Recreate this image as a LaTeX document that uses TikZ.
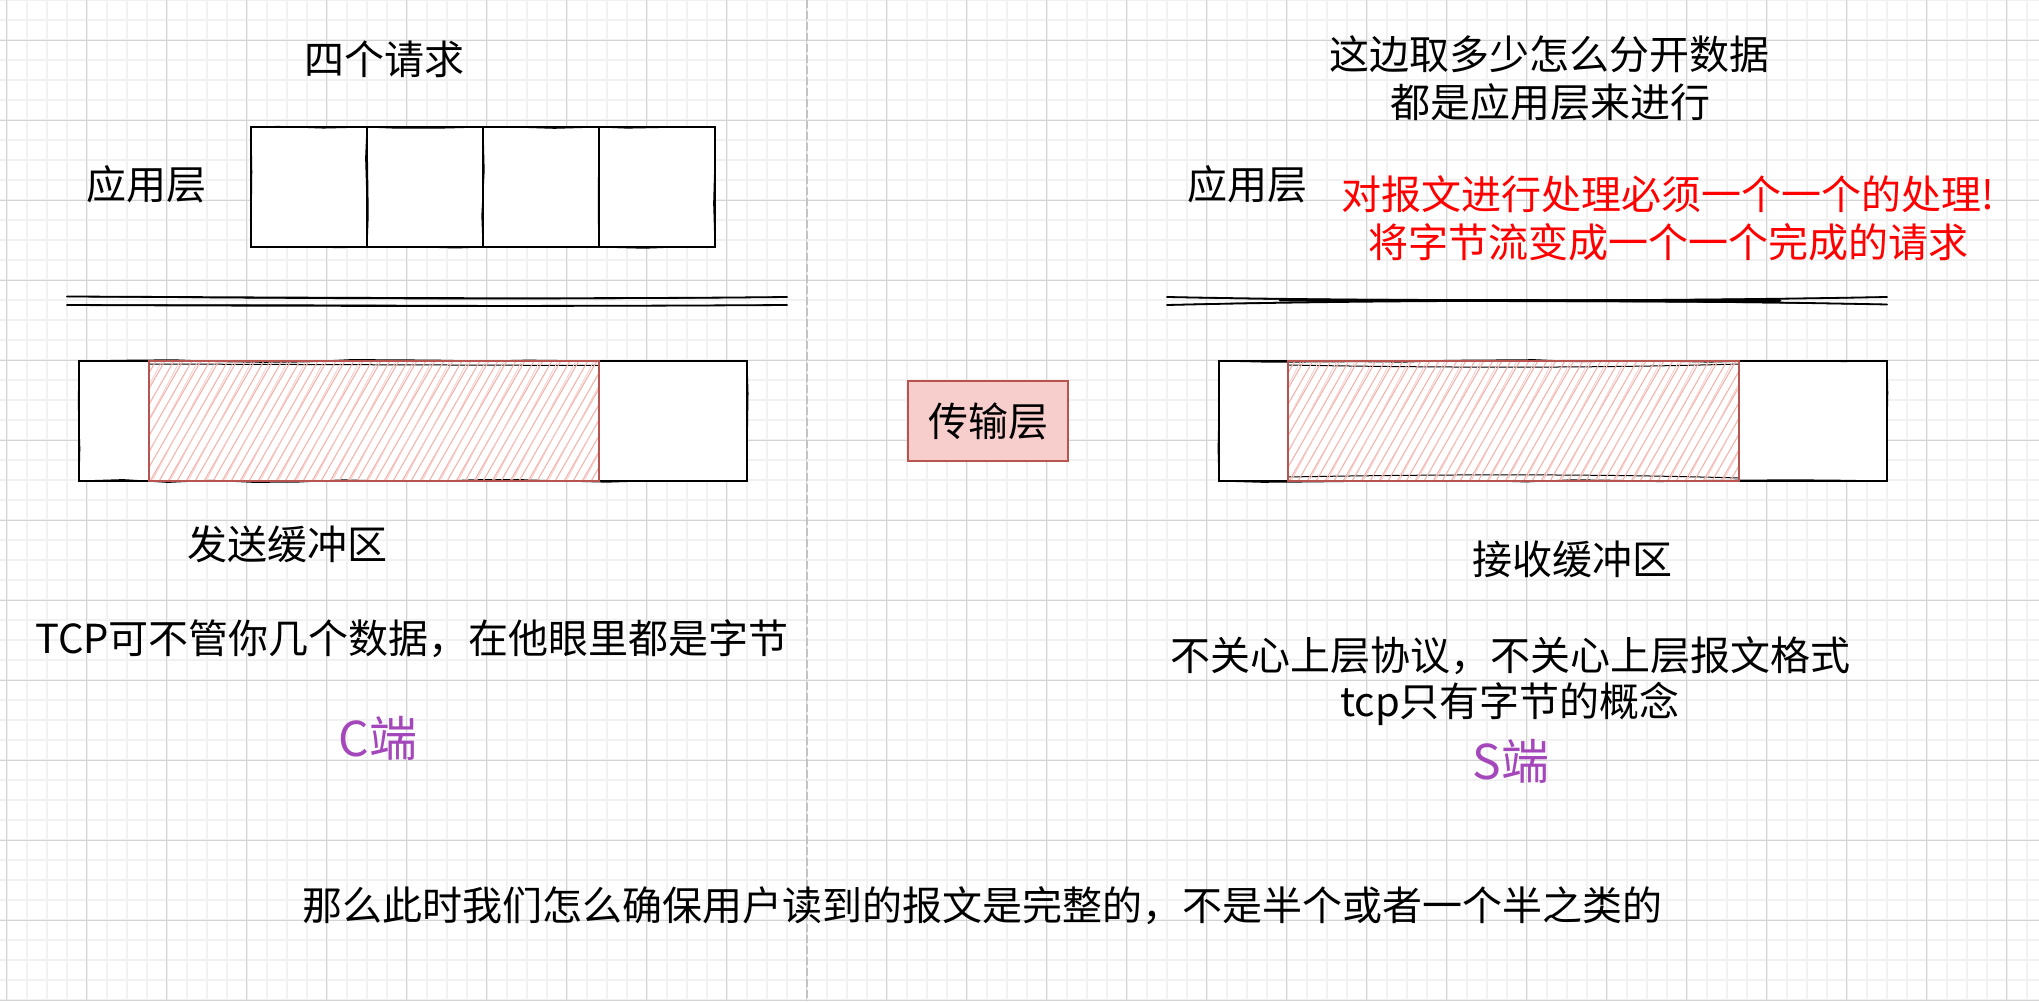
\documentclass[tikz,border=0pt]{standalone}
\usepackage{fontspec}
\newfontfamily\cjk{Noto Sans CJK SC}
\usetikzlibrary{decorations.pathmorphing}
\definecolor{majorgrid}{HTML}{D4D4D4}
\definecolor{minorgrid}{HTML}{F1F1F1}
\definecolor{sepgray}{HTML}{C4C4C4}
\definecolor{pinkstroke}{HTML}{B85450}
\definecolor{pinkfill}{HTML}{F8CECC}
\definecolor{hatchpink}{HTML}{F3B4AF}
\definecolor{purpletxt}{HTML}{A347BA}
\definecolor{redtxt}{HTML}{FF0000}
\tikzset{
  txt/.style={font=\cjk\fontsize{20pt}{24pt}\selectfont, inner sep=0pt, anchor=base, text=black},
  bigtxt/.style={font=\cjk\fontsize{24pt}{28pt}\selectfont, inner sep=0pt, anchor=base, text=purpletxt},
  sk/.style={draw=black, line width=0.9pt, fill=white, inner sep=0pt,
    postaction={draw=black, line width=0.5pt, decorate,
      decoration={random steps, segment length=22pt, amplitude=0.7pt}}},
  pinkbox/.style={draw=pinkstroke, line width=1pt, inner sep=0pt},
  hatch/.style={draw=hatchpink, line width=0.55pt},
  hatchb/.style={draw=hatchpink!70, line width=0.4pt},
  sline/.style={draw=black, line width=0.9pt, line cap=round},
  thinline/.style={draw=black, line width=0.5pt, line cap=round},
}
\newcommand\hatchbox[2]{%
  \begin{scope}
    \clip (#1,361) rectangle (#2,481);
    \foreach \t in {0,9,...,560} \draw[hatch] ({#1-72+\t},483) -- ++(71,-124);
    \foreach \t in {0,18,...,560} \draw[hatchb] ({#1-70+\t},483) -- ++(66,-124);
  \end{scope}}
\begin{document}
\begin{tikzpicture}[x=0.5pt,y=-0.5pt]
\pgfmathsetseed{7}
\useasboundingbox (0,0) rectangle (2039,1001);
\fill[white] (0,0) rectangle (2039,1001);
% grid
\foreach \i in {0,...,101} \draw[minorgrid, line width=0.9pt] ({6.67+20*\i},0) -- ++(0,1001);
\foreach \j in {0,...,50} \draw[minorgrid, line width=0.9pt] (0,{20*\j}) -- ++(2039,0);
\foreach \i in {0,...,25} \draw[majorgrid, line width=0.5pt] ({6.67+80*\i},0) -- ++(0,1001);
\foreach \j in {0,...,12} \draw[majorgrid, line width=0.5pt] (0,{40+80*\j}) -- ++(2039,0);
% separator
\coordinate (sepT) at (806.7,0);
\coordinate (sepB) at (806.7,1001);
\draw[sepgray, line width=1pt, dash pattern=on 4pt off 1.5pt] (sepT) -- (sepB);

% ---------- left (client) ----------
\node[txt] (reqtitle) at (384.5,74) {四个请求};
\node[txt] (appL) at (146,199) {应用层};
\node[sk, minimum width=58pt, minimum height=60pt] (req1) at (309,187) {};
\node[sk, minimum width=58pt, minimum height=60pt] (req2) at (425,187) {};
\node[sk, minimum width=58pt, minimum height=60pt] (req3) at (541,187) {};
\node[sk, minimum width=58pt, minimum height=60pt] (req4) at (657,187) {};

\coordinate (lA1) at (67,296.5); \coordinate (lB1) at (787,297);
\coordinate (lA2) at (67,305);   \coordinate (lB2) at (787,305);
\draw[sline] (lA1) .. controls (300,297.5) and (550,299.5) .. (lB1);
\draw[thinline] (lA1) .. controls (320,299) and (560,300) .. (lB1);
\draw[sline] (lA2) .. controls (300,306) and (550,306.5) .. (lB2);
\draw[thinline] (lA2) .. controls (320,304) and (560,307) .. (lB2);

\node[sk, minimum width=334pt, minimum height=60pt] (sbuf) at (413,421) {};
\draw[thinline] (149,364) -- (599,365.5);
\hatchbox{149}{599}
\node[pinkbox, minimum width=225pt, minimum height=60pt] (sdata) at (374,421) {};
\node[txt] (sendbuf) at (287,559) {发送缓冲区};
\node[txt] (tcpnote) at (412,653) {TCP可不管你几个数据，在他眼里都是字节};
\node[bigtxt] (cside) at (378,756) {C端};

% ---------- middle ----------
\node[draw=pinkstroke, fill=pinkfill, line width=1pt, minimum width=80pt, minimum height=40pt,
      inner sep=0pt, font=\cjk\fontsize{20pt}{24pt}\selectfont] (transport) at (988,421) {传输层};

% ---------- right (server) ----------
\node[txt] (r1) at (1549,69) {这边取多少怎么分开数据};
\node[txt] (r2) at (1550,117) {都是应用层来进行};
\node[txt] (appR) at (1247,199) {应用层};
\node[txt, text=redtxt] (red1) at (1668,209) {对报文进行处理必须一个一个的处理!};
\node[txt, text=redtxt] (red2) at (1668,257) {将字节流变成一个一个完成的请求};

\coordinate (rA1) at (1167,297); \coordinate (rB1) at (1887,297);
\coordinate (rA2) at (1167,305); \coordinate (rB2) at (1887,304.5);
\draw[sline] (rA1) .. controls (1400,301.5) and (1650,301.5) .. (rB1);
\draw[sline] (rA2) .. controls (1400,299.5) and (1650,299.5) .. (rB2);
\draw[black, line width=1.4pt, line cap=round] (1280,300) .. controls (1450,300.5) and (1600,301) .. (1780,300.5);
\draw[thinline] (rA1) .. controls (1400,303) and (1650,300) .. (rB2);
\draw[thinline] (rA2) .. controls (1400,298) and (1650,302) .. (rB1);

\node[sk, minimum width=334pt, minimum height=60pt] (rbuf) at (1553,421) {};
\draw[thinline] (1288,365) .. controls (1450,368) and (1600,368) .. (1739,364);
\draw[thinline] (1288,477) .. controls (1450,474) and (1600,474) .. (1739,478);
\hatchbox{1288}{1739}
\node[pinkbox, minimum width=225.5pt, minimum height=60pt] (rdata) at (1513.5,421) {};
\node[txt] (recvbuf) at (1572,574) {接收缓冲区};
\node[txt] (n1) at (1510,670) {不关心上层协议，不关心上层报文格式};
\node[txt] (n2) at (1510,716) {tcp只有字节的概念};
\node[bigtxt] (sside) at (1511,779) {S端};

% ---------- bottom ----------
\node[txt] (question) at (982,920) {那么此时我们怎么确保用户读到的报文是完整的，不是半个或者一个半之类的};
\end{tikzpicture}
\end{document}
